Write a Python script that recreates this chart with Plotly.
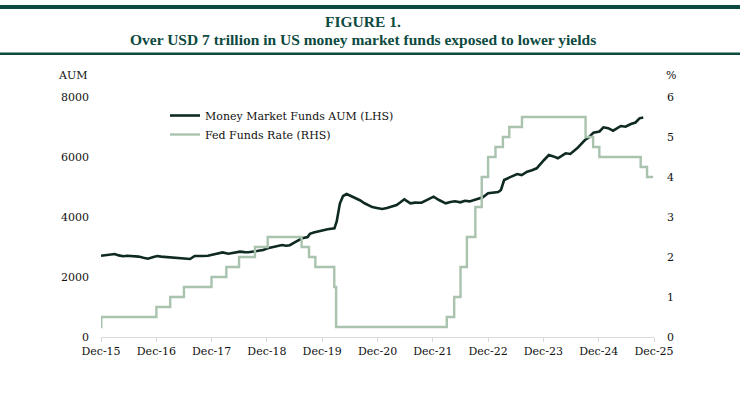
import plotly.graph_objects as go

# ---- data ----
aum_dates = [
    "2015-12-15", "2016-01-10", "2016-02-01", "2016-03-15", "2016-04-10", "2016-05-10",
    "2016-06-05", "2016-07-01", "2016-08-20", "2016-09-20", "2016-10-20", "2016-11-20",
    "2016-12-20", "2017-01-15", "2017-02-10", "2017-03-05", "2017-04-20", "2017-06-05",
    "2017-07-25", "2017-08-25", "2017-09-20", "2017-10-15", "2017-11-20", "2017-12-20",
    "2018-01-10", "2018-02-25", "2018-04-05", "2018-05-10", "2018-06-20", "2018-07-20",
    "2018-08-15", "2018-09-20", "2018-10-20", "2018-11-20", "2018-12-20", "2019-01-25",
    "2019-02-25", "2019-03-25", "2019-04-20", "2019-05-15", "2019-06-25", "2019-08-05",
    "2019-09-10", "2019-09-25", "2019-10-20", "2019-11-15", "2019-12-15", "2020-01-20",
    "2020-03-05", "2020-03-20", "2020-04-10", "2020-05-01", "2020-05-25", "2020-06-25",
    "2020-07-20", "2020-08-20", "2020-09-20", "2020-11-10", "2020-12-10", "2021-01-15",
    "2021-02-15", "2021-03-20", "2021-04-20", "2021-05-15", "2021-06-10", "2021-07-20",
    "2021-08-20", "2021-10-01", "2021-11-20", "2021-12-20", "2022-01-25", "2022-03-10",
    "2022-04-10", "2022-05-10", "2022-06-15", "2022-07-15", "2022-08-15", "2022-09-20",
    "2022-10-15", "2022-11-10", "2022-12-15", "2023-01-20", "2023-02-20", "2023-03-10",
    "2023-03-31", "2023-05-10", "2023-06-25", "2023-07-25", "2023-08-30", "2023-10-01",
    "2023-11-01", "2023-12-20", "2024-01-20", "2024-02-20", "2024-03-20", "2024-05-10",
    "2024-06-10", "2024-07-25", "2024-09-15", "2024-10-10", "2024-11-10", "2024-12-20",
    "2025-01-15", "2025-02-15", "2025-03-20", "2025-05-10", "2025-06-10", "2025-07-15",
    "2025-08-15", "2025-09-10", "2025-10-05",
]
aum_values = [
    2710, 2730, 2740, 2767, 2720, 2690,
    2710, 2700, 2680, 2640, 2610, 2660,
    2700, 2680, 2670, 2645, 2650, 2625,
    2600, 2700, 2690, 2700, 2710, 2740,
    2780, 2820, 2777, 2800, 2845, 2830,
    2823, 2850, 2867, 2900, 2960, 3000,
    3020, 3067, 3040, 3060, 3180, 3290,
    3330, 3440, 3480, 3510, 3560, 3590,
    3623, 3850, 4450, 4700, 4767, 4700,
    4623, 4560, 4457, 4330, 4300, 4267,
    4300, 4343, 4400, 4490, 4590, 4457,
    4480, 4477, 4600, 4677, 4567, 4457,
    4500, 4523, 4490, 4543, 4520, 4567,
    4600, 4657, 4790, 4810, 4830, 4900,
    5233, 5330, 5433, 5400, 5510, 5560,
    5623, 5900, 6067, 6020, 5957, 6123,
    6100, 6290, 6567, 6650, 6810, 6850,
    6990, 6960, 6877, 7033, 7010, 7100,
    7150, 7290, 7320,
]

rate_dates = [
    "2015-12-15", "2015-12-17", "2016-12-15", "2017-03-16", "2017-06-15", "2017-12-14",
    "2018-03-22", "2018-06-14", "2018-09-27", "2018-12-20", "2019-08-01", "2019-09-19",
    "2019-10-31", "2020-03-04", "2020-03-16", "2022-03-17", "2022-05-05", "2022-06-16",
    "2022-07-28", "2022-09-22", "2022-11-03", "2022-12-15", "2023-02-02", "2023-03-23",
    "2023-05-04", "2023-07-27", "2024-09-19", "2024-11-08", "2024-12-19", "2025-09-18",
    "2025-10-30", "2025-12-09",
]
rate_values = [
    0.25, 0.50, 0.75, 1.00, 1.25, 1.50,
    1.75, 2.00, 2.25, 2.50, 2.25, 2.00,
    1.75, 1.25, 0.25, 0.50, 1.00, 1.75,
    2.50, 3.25, 4.00, 4.50, 4.75, 5.00,
    5.25, 5.50, 5.00, 4.75, 4.50, 4.25,
    4.00, 4.00,
]

tick_dates = ["2015-12-15", "2016-12-15", "2017-12-15", "2018-12-15", "2019-12-15",
              "2020-12-15", "2021-12-15", "2022-12-15", "2023-12-15", "2024-12-15",
              "2025-12-15"]
tick_labels = ["Dec-15", "Dec-16", "Dec-17", "Dec-18", "Dec-19", "Dec-20",
               "Dec-21", "Dec-22", "Dec-23", "Dec-24", "Dec-25"]

title_line1 = "FIGURE 1."
title_line2 = "Over USD 7 trillion in US money market funds exposed to lower yields"

# ---- styling ----
DARK = "#0f2a23"
LIGHT = "#a9c3af"
RULE = "#0d4a3f"
FONT = "DejaVu Serif"

W, H = 740, 399
# plot area in page pixels: x 101..654, y 97..337
L, T = 101, 97
R = W - 654
B = H - 337
pw, ph = W - L - R, H - T - B


def px_x(p):
    return (p - L) / pw


def px_y(p):
    return (H - B - p) / ph


fig = go.Figure()
fig.add_trace(go.Scatter(
    x=aum_dates, y=aum_values, mode="lines", name="Money Market Funds AUM (LHS)",
    line=dict(color=DARK, width=2.6), yaxis="y",
))
fig.add_trace(go.Scatter(
    x=rate_dates, y=rate_values, mode="lines", name="Fed Funds Rate (RHS)",
    line=dict(color=LIGHT, width=2.4, shape="hv"), yaxis="y2",
))

fig.update_layout(
    width=W, height=H,
    margin=dict(l=L, r=R, t=T, b=B),
    paper_bgcolor="white", plot_bgcolor="white",
    font=dict(family=FONT, size=11, color="#111111"),
    showlegend=True,
    legend=dict(
        x=px_x(165), y=px_y(101), xanchor="left", yanchor="top",
        bgcolor="rgba(0,0,0,0)", font=dict(family=FONT, size=11, color="#111111"),
        tracegroupgap=0, itemwidth=30,
    ),
    xaxis=dict(
        type="date", range=["2015-12-15", "2025-12-15"],
        tickvals=tick_dates, ticktext=tick_labels,
        showgrid=False, zeroline=False,
        showline=True, linecolor="#d9d9d9", linewidth=1,
        ticks="outside", ticklen=4, tickcolor="#d9d9d9",
        tickfont=dict(family=FONT, size=11, color="#111111"),
    ),
    yaxis=dict(
        range=[0, 8000], tickvals=[0, 2000, 4000, 6000, 8000],
        showgrid=False, zeroline=False, showline=False, ticks="",
        ticklabelstandoff=11,
        tickfont=dict(family=FONT, size=11, color="#111111"),
    ),
    yaxis2=dict(
        range=[0, 6], tickvals=[0, 1, 2, 3, 4, 5, 6], overlaying="y", side="right",
        showgrid=False, zeroline=False, showline=False, ticks="",
        ticklabelstandoff=12,
        tickfont=dict(family=FONT, size=11, color="#111111"),
    ),
    shapes=[
        dict(type="rect", xref="paper", yref="paper", x0=px_x(0), x1=px_x(W),
             y0=px_y(9), y1=px_y(5), line=dict(width=0), fillcolor=RULE),
        dict(type="rect", xref="paper", yref="paper", x0=px_x(0), x1=px_x(W),
             y0=px_y(55), y1=px_y(52.5), line=dict(width=0), fillcolor=RULE),
    ],
    annotations=[
        dict(text="<b>" + title_line1 + "</b>", xref="paper", yref="paper",
             x=px_x(363), y=px_y(21), xanchor="center", yanchor="middle",
             showarrow=False, font=dict(family="Liberation Serif", size=15.5, color=RULE)),
        dict(text="<b>" + title_line2 + "</b>", xref="paper", yref="paper",
             x=px_x(363), y=px_y(40), xanchor="center", yanchor="middle",
             showarrow=False, font=dict(family="Liberation Serif", size=15.5, color=RULE)),
        dict(text="AUM", xref="paper", yref="paper", x=px_x(89), y=px_y(75),
             xanchor="right", yanchor="middle", showarrow=False,
             font=dict(family=FONT, size=11, color="#111111")),
        dict(text="%", xref="paper", yref="paper", x=px_x(664), y=px_y(75),
             xanchor="left", yanchor="middle", showarrow=False,
             font=dict(family=FONT, size=11, color="#111111")),
    ],
)

fig.write_html(
    "out.html",
    config={"displayModeBar": False},
    post_script="document.body.style.margin='0';document.body.style.overflow='hidden';",
)
